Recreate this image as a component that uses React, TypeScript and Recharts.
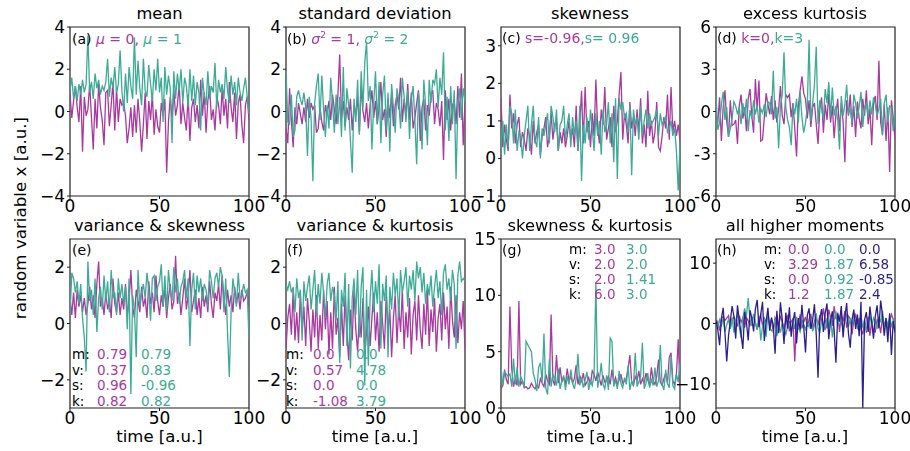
import React from "react";
import { LineChart, Line, XAxis, YAxis, ReferenceArea } from "recharts";

const MAGENTA = "#A8399E";
const TEAL = "#3CAA95";
const NAVY = "#2C1E8C";

// (a) mean
const meanMu0 = [
  0.8, -0.3, 0.5, 1.2, 0.2, -0.5, 1.2, -1.9, 0.7, -0.2,
  0.1, 1.3, -0.3, -1.8, 0.6, -0.8, 1.3, 0.2, -0.4, -1.6,
  0.9, 1.0, -0.7, 0.3, 1.4, -0.9, 1.1, -0.5, 0.6, 0.3,
  0.4, -0.2, -1.5, -0.8, 0.2, -1.2, 0.3, -1.0, 0.6, -0.5,
  -1.9, -0.6, 0.9, -1.3, 0.5, -0.4, 0.8, -1.1, 0.1, -0.7,
  -1.0, 0.4, -0.2, 0.6, -2.9, -0.5, 0.7, -0.3, 1.0, -0.2,
  0.3, 1.3, -0.6, 0.4, -0.3, -0.9, 0.8, -1.4, 0.2, 0.6,
  -0.5, 0.3, -0.8, 1.5, -0.2, 0.9, -1.0, 0.5, 1.2, -0.4,
  0.1, -0.9, 0.7, 0.3, -0.6, 1.1, -0.2, 0.6, -0.8, 1.4,
  0.2, -0.5, 0.9, -1.3, 0.4, 0.8, -0.6, -1.5, 0.3, 0.7,
  -0.4,
];
const meanMu1 = [
  1.0, 1.6, 0.6, 1.2, 0.5, 1.3, 0.8, 1.5, 0.9, 1.3,
  3.6, 0.9, 1.4, 0.6, 1.8, 1.1, 1.5, 0.8, 1.2, 1.0,
  1.4, 2.5, 0.7, 1.6, 1.1, 2.1, 0.9, 1.3, 2.9, 1.0,
  0.0, 1.8, 0.4, 2.1, 1.2, 0.6, 3.5, 0.8, 2.4, 1.1,
  0.3, 2.5, 1.0, 0.7, 2.2, 1.3, 0.5, 2.0, 1.0, 2.5,
  0.9, 1.6, -0.5, 2.1, 0.8, 1.7, 1.1, -1.5, 1.9, 0.6,
  1.8, 1.0, 2.0, 0.4, 1.6, 1.2, 0.2, 2.0, 0.5, 1.7,
  0.3, 1.4, 0.9, -0.9, 1.6, 0.8, 0.3, 1.9, 0.6, 1.2,
  0.9, 2.3, 0.2, 1.5, 0.9, 1.3, 0.6, 2.1, 1.0, 0.4,
  1.7, 0.8, 1.4, 0.3, 1.6, 0.9, 0.5, 1.1, 1.6, 0.7,
  -0.1,
];

// (b) standard deviation
const stdVar1 = [
  -0.8, -1.5, 1.1, -0.4, -1.7, 0.2, -0.6, 0.4, -0.1, -0.6,
  0.2, -0.5, 0.6, -0.3, 0.4, 0.1, 0.3, -1.0, -0.8, 0.2,
  -0.5, -0.9, 0.3, -0.2, 0.5, -0.4, 0.8, 0.1, -0.6, 0.8,
  2.7, -0.3, 0.5, -0.7, 0.2, -0.4, 0.6, -0.9, 0.3, -0.2,
  0.7, -1.0, 1.2, 0.0, -0.5, 0.4, -0.8, 0.3, 1.0, -0.3,
  0.5, -0.6, 0.2, 1.4, -0.4, 0.1, -1.2, 0.6, -0.3, 0.9,
  -0.7, 0.3, 0.8, 0.1, 1.6, -0.5, 0.6, -0.2, 1.3, -0.4,
  0.9, -0.8, -0.3, 0.4, 1.0, -1.4, 0.2, 0.6, -0.9, 0.3,
  -0.2, 0.8, 1.0, -0.6, 0.4, 0.1, -0.7, 0.5, -2.3, 1.0,
  -0.4, 0.6, -0.9, 0.3, 0.5, -0.6, 1.2, -0.3, 1.8, -1.6,
  0.4,
];
const stdVar2 = [
  1.9, -0.5, -0.6, 0.8, -1.2, -0.9, 0.7, 1.0, 0.6, 0.3,
  0.9, 0.2, -2.1, 0.7, -0.3, -3.3, 0.4, 1.2, 1.8, -0.4,
  1.7, 0.1, -1.2, 0.3, -0.8, 1.6, 0.4, -1.0, 0.8, -0.6,
  0.7, -1.2, 2.1, -0.9, 1.1, 0.3, -1.4, -2.9, 0.6, -0.5,
  1.5, -1.1, 1.9, 0.2, 2.3, 3.3, 0.5, 1.2, -1.8, 0.4,
  1.9, -0.6, 1.4, -1.5, 0.8, 1.7, -0.9, 0.9, -1.9, 1.3,
  0.2, -1.0, 1.1, 0.5, -0.8, 1.6, 0.7, -0.5, 1.0, -1.3,
  0.6, 1.2, -0.4, -2.5, 0.9, 0.0, -1.8, 1.5, 0.3, -1.6,
  1.5, 0.4, 1.5, 1.3, 2.0, 0.2, 1.6, 0.8, 2.8, -0.9,
  0.7, -1.4, 1.2, -0.6, 1.0, -3.2, 0.3, 1.1, -0.4, 1.1,
  0.5,
];

// (c) skewness
const skewNeg = [
  1.6, 0.3, 0.9, 0.5, 0.2, 1.7, 0.8, 1.2, 0.4, 0.9,
  1.1, 0.3, 0.7, 0.5, 0.2, 0.8, 0.6, 0.1, 1.0, 0.4,
  0.7, 0.9, 0.1, 0.6, 0.8, 1.1, 0.3, 0.6, 1.2, 0.5,
  0.9, 1.0, 0.2, 0.7, 0.4, 0.8, 0.3, 0.6, 1.0, 0.5,
  0.8, 0.3, 1.4, 0.2, 0.9, 1.8, 0.4, 1.9, 0.7, 1.0,
  0.3, 1.2, 0.6, 2.1, 0.8, 0.4, 1.3, 0.9, 1.9, 0.5,
  0.8, 1.1, 0.3, 1.4, 0.7, 1.0, 1.7, 2.3, 0.5, 1.2,
  0.9, 0.4, 1.5, 0.8, 1.1, 0.6, 1.3, 0.7, 1.6, 0.4,
  0.9, 0.3, 1.8, 0.6, 1.0, 0.4, 0.7, 1.5, 0.3, 0.2,
  0.6, 1.1, 0.8, 1.7, 0.5, 1.9, 0.7, 1.0, 0.6, 0.9,
  0.5,
];
const skewPos = [
  0.2, 1.0, 0.1, 0.9, 0.3, 1.4, 1.2, 0.4, 1.3, 0.2,
  0.7, 0.6, 0.0, 0.6, 1.0, 1.4, 0.2, 0.9, 1.4, 0.5,
  0.3, 1.1, 0.0, 0.8, 0.6, 0.9, 1.2, 0.4, 1.4, 1.1,
  0.7, 1.3, 0.2, 0.9, 1.0, 1.4, 0.5, 0.9, 1.2, 0.3,
  1.1, 0.6, 1.0, 0.2, 1.4, -0.6, 0.9, 0.4, 1.1, 0.5,
  1.3, 0.8, 0.2, 1.2, 0.6, 1.0, 0.1, 1.3, 0.7, 0.9,
  1.5, 0.4, 1.2, -0.1, 1.6, -0.55, 1.6, 1.3, 1.5, 1.1,
  1.2, 0.7, 1.4, -0.45, 1.3, 0.9, 1.1, 0.5, 1.4, 0.6,
  1.0, 1.3, 0.8, 1.2, 0.9, 1.0, 1.1, 1.3, 0.6, 1.2,
  0.9, 1.0, 1.1, 0.7, 0.8, 1.0, 0.6, 0.8, 0.2, -0.85,
  0.4,
];

// (d) excess kurtosis
const kurt0 = [
  -0.2, -0.8, 1.0, -2.1, 0.3, 1.5, -0.7, -1.8, 0.8, -1.0,
  -0.9, -0.6, -2.3, 0.4, 1.2, -0.5, 0.3, -1.4, 0.9, 1.6,
  -0.3, -1.5, 2.3, 0.1, 2.2, -2.1, -2.0, -0.4, 1.3, 0.5,
  -0.2, 1.1, -0.6, 0.8, -0.8, 0.2, 1.8, -0.3, -0.9, 1.2,
  1.0, 1.2, -0.4, 0.6, -1.2, -3.2, 0.4, 1.5, 2.5, 1.3,
  0.9, -0.5, 0.8, -1.1, 0.3, 0.6, -0.9, -2.3, 0.2, 1.0,
  -1.5, 0.5, -0.6, 1.3, -0.8, 0.4, -1.9, -0.2, 0.9, -1.4,
  0.6, -0.7, -3.6, 0.8, -0.3, 1.2, -1.1, 0.4, -1.8, 0.7,
  -0.5, -1.2, 0.9, -0.3, 1.5, -0.9, 0.2, -2.4, 0.6, 1.1,
  -0.6, 3.6, -0.8, -1.6, 0.5, -2.1, 0.3, -4.3, 0.8, -0.4,
  -2.0,
];
const kurt3 = [
  1.1, -1.3, -0.8, 0.5, 1.4, -0.6, 0.3, -1.8, -1.2, -0.5,
  0.7, 0.4, -0.2, 0.3, -0.9, 0.6, -0.3, 0.9, -1.4, 0.1,
  -0.5, 0.8, -0.2, 0.4, -0.8, 0.2, -0.1, 0.5, -0.4, 0.7,
  0.6, -0.2, 2.9, -0.5, 0.3, -2.6, 0.4, 1.2, 4.2, 0.3,
  -0.6, -1.1, -2.4, 0.5, -0.2, 0.9, -0.8, 1.4, -0.4, -1.5,
  -0.8, 0.3, 5.1, -0.7, 0.6, 1.9, 4.6, -0.9, 0.8, 0.2,
  -0.5, 1.6, 0.6, 2.1, -0.4, 1.7, -0.3, 0.4, -0.6, -2.7,
  1.1, -0.3, 0.5, 1.9, -0.2, 0.2, -0.8, 1.2, 0.6, -0.5,
  0.4, 1.4, -1.1, 0.3, 0.6, -0.4, 0.8, -0.2, 1.0, 0.5,
  -0.3, 0.2, 0.9, -1.7, 0.6, 1.2, -0.8, 0.4, 0.3, -1.4,
  0.2,
];

// (e) variance & skewness
const varSkewA = [
  0.9, 0.3, 1.1, 0.2, 1.2, 0.6, 1.0, 0.4, 0.9, 0.3,
  0.7, 1.3, 0.5, 1.0, 0.2, 1.4, 2.2, 0.6, 0.9, 0.3,
  1.1, 0.5, 0.8, 0.2, 1.6, 0.7, 0.4, 1.1, 0.3, 0.9,
  0.5, 1.4, 0.3, 0.8, 1.9, 0.6, 0.2, 1.2, 0.8, 0.4,
  1.3, 0.6, 0.9, 0.2, 1.5, 0.7, 1.1, 0.4, 1.7, 0.8,
  0.3, 1.0, 0.6, 1.3, 0.2, 0.9, 1.4, 0.5, 0.8, 2.4,
  0.7, 1.1, 0.3, 0.9, 1.6, 0.5, 1.0, 1.9, 0.4, 0.8,
  1.2, 0.3, 0.9, 0.2, 1.3, 0.6, 1.0, 0.4, 1.5, 0.7,
  0.2, 1.1, 0.8, 1.4, 0.5, 1.7, 0.9, 0.3, 1.2, 0.6,
  1.0, 0.4, 1.3, 0.7, 1.1, 0.5, 1.2, 0.8, 0.9, 1.1,
  0.6,
];
const varSkewB = [
  0.3, 1.8, 1.6, 1.1, 1.5, 0.7, 1.4, 0.2, -0.5, -1.7,
  2.2, 0.8, 1.2, 0.3, 1.6, -0.3, 0.9, 1.3, 0.5, 1.7,
  0.8, 1.5, 0.4, 1.9, 0.9, 1.1, 0.3, 1.6, 0.9, 1.4,
  0.7, 1.3, -0.2, 1.6, -2.5, 1.0, 0.5, -1.2, 1.9, 0.6,
  1.1, 1.4, 0.9, 1.8, 1.2, 0.1, 1.6, 1.7, 0.8, 1.3,
  1.5, 2.1, 0.6, 1.7, 0.4, 1.9, 1.2, 0.8, 2.0, 1.1,
  1.6, 0.7, 1.3, 1.5, 1.9, 0.9, 1.6, -0.8, 1.2, 1.8,
  0.5, 1.7, 1.1, 1.6, 0.8, 1.4, 1.2, 0.6, 1.9, 1.5,
  0.9, 1.6, 1.8, 1.3, 2.0, 1.7, 0.4, 1.6, -0.3, -1.9,
  0.4, 1.6, 1.1, 0.6, 1.8, 0.9, 1.0, 1.4, 1.1, 1.2,
  -0.6,
];

// (f) variance & kurtosis
const varKurtA = [
  -0.9, 0.2, 0.7, -0.4, 1.2, -0.6, 0.4, -0.7, 1.1, -0.3,
  0.6, -0.8, 0.9, 0.1, -1.0, 0.5, -0.5, 1.0, -0.9, 0.3,
  -0.6, 1.2, -0.2, 0.8, -1.1, 0.4, -0.9, 1.3, -0.4, 0.2,
  -1.2, 0.7, -0.8, 1.0, -0.3, -1.3, 0.5, -0.6, 1.2, -0.2,
  -1.0, 0.3, -0.5, 0.9, -1.1, -0.3, 0.6, -0.8, 0.2, 1.1,
  -0.6, 0.4, -1.0, 0.8, 0.0, -0.9, 1.1, -0.3, 0.5, -1.2,
  0.2, 1.0, -0.7, 0.6, -0.3, 1.2, -0.9, 0.4, -0.5, 0.9,
  -1.1, 0.3, 0.8, -0.6, 1.0, -0.2, -0.9, 0.7, -0.4, 1.2,
  -0.8, 0.5, -0.3, 0.9, -1.0, 0.2, 0.7, -0.6, 1.1, -0.2,
  0.6, -0.9, 1.3, 0.1, -0.5, 1.0, -0.7, 0.4, -0.2, 0.8,
  -0.9,
];
const varKurtB = [
  1.4, 1.2, 1.5, 1.1, 1.3, 0.4, 1.6, 0.9, 1.2, -0.6,
  1.5, 0.8, 1.3, 1.7, 0.5, 1.2, 1.9, 0.3, 1.4, 0.7,
  1.8, 1.1, 0.2, 1.4, 1.8, 0.8, 1.3, 1.0, 0.1, 1.5,
  -1.4, 1.2, 0.6, 1.8, -0.8, 1.4, -1.6, 0.9, 1.6, 0.3,
  1.9, -0.5, 1.3, 2.0, -2.2, 1.2, -1.5, 0.9, 1.9, 0.4,
  1.5, 0.7, 2.1, -0.9, 1.4, 0.8, 1.7, -1.2, 1.3, 0.5,
  1.8, 1.0, 1.6, 0.2, 1.9, 1.1, 1.5, 2.0, 0.6, 1.7,
  1.2, 1.9, 0.8, 2.2, 1.6, 2.0, 1.1, 1.8, 0.7, 1.4,
  1.0, 1.7, 0.6, 1.3, 1.9, 0.9, 1.5, 0.3, 1.8, 2.1,
  1.2, 1.6, 0.8, 1.9, 1.4, -0.9, 1.7, 2.2, 1.5, 1.6,
  1.5,
];

// (g) skewness & kurtosis
const skewKurtA = [
  1.7, 2.0, 3.4, 2.5, 2.1, 9.0, 3.5, 1.9, 2.6, 2.0,
  9.5, 2.1, 2.4, 1.8, 1.9, 1.7, 1.8, 2.2, 1.9, 1.7,
  2.0, 1.8, 2.6, 2.2, 1.9, 3.0, 2.4, 2.1, 8.3, 2.5,
  2.0, 4.7, 2.2, 3.6, 2.3, 2.7, 2.1, 3.5, 2.4, 2.8,
  2.2, 2.6, 3.8, 2.1, 2.9, 2.4, 3.1, 2.0, 2.3, 2.7,
  2.1, 3.3, 3.0, 2.4, 3.2, 2.6, 2.0, 2.9, 2.3, 2.5,
  2.8, 2.1, 3.4, 2.2, 2.7, 2.0, 2.5, 3.0, 2.2, 2.4,
  2.6, 3.5, 4.7, 2.3, 2.0, 2.8, 2.4, 3.3, 2.1, 2.6,
  2.2, 3.1, 2.5, 2.0, 3.6, 2.4, 2.1, 2.8, 4.3, 2.3,
  2.0, 2.6, 3.1, 2.2, 4.5, 4.9, 2.4, 2.1, 3.0, 6.1,
  1.8,
];
const skewKurtB = [
  3.7, 2.0, 3.2, 3.0, 2.8, 3.0, 1.9, 4.4, 2.1, 3.6,
  1.9, 2.8, 2.4, 1.8, 5.9, 5.6, 5.3, 5.0, 3.1, 2.5,
  1.5, 3.6, 4.0, 2.3, 6.6, 1.8, 1.2, 4.3, 1.9, 3.0,
  2.6, 2.0, 3.5, 1.7, 2.4, 2.9, 1.6, 2.8, 2.1, 3.4,
  2.2, 1.7, 2.6, 4.8, 2.0, 2.7, 1.8, 2.5, 3.2, 1.6,
  2.4, 2.0, 3.0, 11.0, 1.8, 2.6, 4.0, 2.1, 1.7, 2.9,
  1.6, 6.2, 5.9, 1.9, 2.5, 1.7, 3.3, 2.2, 1.8, 2.7,
  2.1, 3.8, 1.6, 2.4, 2.0, 4.9, 1.9, 2.3, 2.8, 5.8,
  1.7, 2.2, 3.1, 1.8, 2.5, 2.0, 3.6, 1.9, 2.4, 5.6,
  2.1, 1.6, 3.4, 2.2, 1.8, 4.6, 2.0, 1.7, 3.0, 2.3,
  4.0,
];

// (h) all higher moments
const allA = [
  -0.5, 0.3, -1.2, 0.8, 1.2, 0.5, 0.9, 1.3, -0.8, 0.6,
  1.1, 0.4, -0.5, 1.3, 0.2, 0.9, -0.7, 1.0, 0.4, -0.3,
  0.8, 1.2, 0.1, -1.0, 0.6, 1.4, -0.4, 0.9, 0.3, 1.1,
  -0.2, 0.7, -1.5, 1.0, 0.4, -0.6, 1.3, 0.2, -0.9, 0.5,
  1.2, -1.3, 0.3, 0.8, -6.3, 0.6, -0.4, 1.5, -0.8, 0.2,
  1.1, -0.5, 0.7, 1.6, -1.1, 0.4, 0.9, -0.3, 1.4, 0.1,
  2.5, 0.6, -0.8, 2.3, 1.0, -0.4, 2.9, 0.7, 1.8, -1.4,
  1.5, 0.3, 2.1, -0.7, 1.2, 0.8, -1.8, 0.6, 1.4, -0.2,
  0.9, -1.0, -1.8, 0.5, -1.5, 1.1, -2.0, 0.3, -1.2, -1.4,
  0.6, 0.2, -1.6, 1.0, -0.5, 0.8, -1.3, 0.4, 1.5, 0.7,
  -0.8,
];
const allB = [
  0.4, -0.8, 0.6, -0.3, 0.9, -1.4, -0.2, 0.7, -0.9, 1.0,
  -1.5, 0.3, 1.8, -0.6, -2.4, 0.9, 2.5, 1.2, 4.2, 0.5,
  -0.4, 1.6, 0.2, -1.0, 1.3, -2.8, -0.5, 0.8, -2.2, 1.9,
  -0.6, -1.2, -0.9, 0.7, -2.1, -0.3, -1.5, 0.2, -0.8, -1.8,
  -0.5, 0.4, -1.2, 0.3, -0.9, 1.1, -0.7, -1.4, 0.6, -0.2,
  -1.0, 0.1, -0.6, 0.8, -1.3, -0.4, 1.7, -0.8, -1.6, 0.5,
  -0.3, -1.1, 0.9, -0.7, 1.4, -2.3, 0.6, 2.0, -0.4, 1.3,
  0.2, -1.0, 0.8, 1.5, -0.6, 0.9, -0.3, 1.2, 0.4, -0.8,
  0.1, 1.4, -0.7, 0.6, -1.2, -0.1, 1.3, -0.5, 0.9, 0.3,
  -0.9, 1.1, 0.2, 2.1, -0.6, 0.7, -0.2, 1.0, -0.4, 0.5,
  -0.3,
];
const allC = [
  0.5, -1.0, -3.6, 0.8, 2.6, -1.5, -6.3, -2.0, 0.4, 2.9,
  1.2, -2.5, 3.0, 0.6, -1.8, -4.2, 1.9, 0.2, -2.8, 2.2,
  0.9, -1.3, 2.4, 3.9, -0.6, 1.5, 3.6, -2.9, 0.3, 2.6,
  -1.2, 1.0, -0.4, -5.0, 2.1, -1.6, 3.5, 0.7, -3.4, 1.8,
  -0.8, 2.7, -2.2, 0.4, 1.9, -3.3, 0.9, -1.0, 3.1, -0.5,
  -4.8, 1.3, 2.5, -0.9, 0.6, 3.2, -1.8, -9.0, 0.8, 2.4,
  -1.4, 1.7, 3.3, -2.6, 0.5, 2.0, -1.1, -6.5, 1.6, 0.3,
  2.9, -2.3, 1.1, 3.4, -1.7, -4.0, 0.7, 2.3, -0.9, 1.5,
  -2.1, 3.6, -14.0, 0.6, 1.9, -1.4, 2.8, 0.2, -2.5, 1.2,
  3.0, -0.8, 3.8, 1.4, -2.0, 0.9, -3.1, 1.7, -5.2, 0.4,
  -1.5,
];

// axes
const X_TICKS = [0, 50, 100];
const TICKS_AB = [-4, -2, 0, 2, 4];
const TICKS_C = [-1, 0, 1, 2, 3];
const TICKS_D = [-6, -3, 0, 3, 6];
const TICKS_EF = [-2, 0, 2];
const TICKS_G = [0, 5, 10, 15];
const TICKS_H = [-10, 0, 10];

// stat tables
const STAT_LABELS = ["m:", "v:", "s:", "k:"];
const STATS_E = [["0.79", "0.79"], ["0.37", "0.83"], ["0.96", "-0.96"], ["0.82", "0.82"]];
const STATS_F = [["0.0", "0.0"], ["0.57", "4.78"], ["0.0", "0.0"], ["-1.08", "3.79"]];
const STATS_G = [["3.0", "3.0"], ["2.0", "2.0"], ["2.0", "1.41"], ["6.0", "3.0"]];
const STATS_H = [["0.0", "0.0", "0.0"], ["3.29", "1.87", "6.58"], ["0.0", "0.92", "-0.85"], ["1.2", "1.87", "2.4"]];

const PLOT_W = 179;
const PLOT_H = 169;
const COL_X = [70, 285.5, 500.5, 715.5];
const ROW_Y = [27, 239];
const YW = 45;
const XH = 28;
const TM = 12;
const RM = 18;
const TICK_FONT = 17;
const FONT = "'DejaVu Sans', sans-serif";

const minusFmt = (v: number) => (v < 0 ? "\u2212" + Math.abs(v) : String(v));
const hyphenFmt = (v: number) => String(v);

type PanelProps = {
  col: number;
  row: number;
  domain: [number, number];
  ticks: number[];
  fmt?: (v: number) => string;
  series: number[][];
  colors: string[];
  title: string;
};

function Panel({ col, row, domain, ticks, fmt = minusFmt, series, colors, title }: PanelProps) {
  const n = Math.max(...series.map((s) => s.length));
  const data = Array.from({ length: n }, (_, i) => {
    const d: Record<string, number> = { t: i };
    series.forEach((s, k) => {
      if (i < s.length) d["s" + k] = s[i];
    });
    return d;
  });
  const left = COL_X[col];
  const top = ROW_Y[row];
  return (
    <>
      <div
        style={{
          position: "absolute",
          left: left - 20,
          width: PLOT_W + 40,
          top: top - 23,
          textAlign: "center",
          fontSize: 16.3,
          lineHeight: "20px",
          whiteSpace: "nowrap",
        }}
      >
        {title}
      </div>
      <div style={{ position: "absolute", left: left - YW, top: top - TM }}>
        <LineChart
          width={YW + PLOT_W + RM}
          height={TM + PLOT_H + XH}
          data={data}
          margin={{ top: TM, right: RM, left: 0, bottom: 0 }}
        >
          <XAxis
            dataKey="t"
            type="number"
            domain={[0, 100]}
            ticks={X_TICKS}
            height={XH}
            allowDataOverflow
            axisLine={false}
            tickSize={3}
            tickMargin={1}
            tickLine={{ stroke: "#222" }}
            tick={{ fontSize: TICK_FONT, fill: "#000" }}
            interval={0}
          />
          <YAxis
            type="number"
            domain={domain}
            ticks={ticks}
            width={YW}
            allowDataOverflow
            axisLine={false}
            tickSize={3}
            tickMargin={2}
            tickLine={{ stroke: "#222" }}
            tick={{ fontSize: TICK_FONT, fill: "#000" }}
            tickFormatter={fmt}
            interval={0}
          />
          {series.map((_, k) => (
            <Line
              key={k}
              dataKey={"s" + k}
              stroke={colors[k]}
              strokeWidth={1.3}
              dot={false}
              isAnimationActive={false}
              type="linear"
            />
          ))}
          <ReferenceArea
            x1={0}
            x2={100}
            y1={domain[0]}
            y2={domain[1]}
            fill="none"
            fillOpacity={0}
            stroke="#222"
            strokeWidth={1.2}
            ifOverflow="visible"
          />
        </LineChart>
      </div>
    </>
  );
}

function Tag({ x, y, children }: { x: number; y: number; children: React.ReactNode }) {
  return (
    <div style={{ position: "absolute", left: x, top: y - 9, fontSize: 14, lineHeight: "18px", whiteSpace: "nowrap" }}>
      {children}
    </div>
  );
}

function StatTable({
  x,
  y,
  step,
  colX,
  rows,
  colors,
}: {
  x: number;
  y: number;
  step: number;
  colX: number[];
  rows: string[][];
  colors: string[];
}) {
  return (
    <>
      {STAT_LABELS.map((lab, r) => (
        <React.Fragment key={lab}>
          <div style={{ position: "absolute", left: x, top: y + r * step - 9, fontSize: 13.5, lineHeight: "18px" }}>{lab}</div>
          {rows[r].map((v, c) => (
            <div
              key={c}
              style={{ position: "absolute", left: colX[c], top: y + r * step - 9, fontSize: 13.5, lineHeight: "18px", color: colors[c] }}
            >
              {v}
            </div>
          ))}
        </React.Fragment>
      ))}
    </>
  );
}

export default function App() {
  const mu = <i>μ</i>;
  const sig = (
    <>
      <i>σ</i>
      <sup style={{ fontSize: 9, verticalAlign: "6px", lineHeight: 0 }}>2</sup>
    </>
  );
  return (
    <div
      style={{
        position: "fixed",
        left: 0,
        top: 0,
        width: 910,
        height: 451,
        background: "#fff",
        fontFamily: FONT,
        color: "#000",
      }}
    >
      <Panel col={0} row={0} domain={[-4, 4]} ticks={TICKS_AB} series={[meanMu0, meanMu1]} colors={[MAGENTA, TEAL]} title="mean" />
      <Panel col={1} row={0} domain={[-4, 4]} ticks={TICKS_AB} series={[stdVar1, stdVar2]} colors={[MAGENTA, TEAL]} title="standard deviation" />
      <Panel col={2} row={0} domain={[-1, 3.5]} ticks={TICKS_C} series={[skewNeg, skewPos]} colors={[MAGENTA, TEAL]} title="skewness" />
      <Panel col={3} row={0} domain={[-6, 6]} ticks={TICKS_D} fmt={hyphenFmt} series={[kurt0, kurt3]} colors={[MAGENTA, TEAL]} title="excess kurtosis" />
      <Panel col={0} row={1} domain={[-3, 3]} ticks={TICKS_EF} series={[varSkewA, varSkewB]} colors={[MAGENTA, TEAL]} title="variance & skewness" />
      <Panel col={1} row={1} domain={[-3, 3]} ticks={TICKS_EF} series={[varKurtA, varKurtB]} colors={[MAGENTA, TEAL]} title="variance & kurtosis" />
      <Panel col={2} row={1} domain={[0, 15]} ticks={TICKS_G} series={[skewKurtA, skewKurtB]} colors={[MAGENTA, TEAL]} title="skewness & kurtosis" />
      <Panel col={3} row={1} domain={[-14, 14]} ticks={TICKS_H} series={[allA, allB, allC]} colors={[MAGENTA, TEAL, NAVY]} title="all higher moments" />

      <Tag x={72} y={39}>
        (a) <span style={{ color: MAGENTA }}>{mu} = 0,</span> <span style={{ color: TEAL }}>{mu} = 1</span>
      </Tag>
      <Tag x={287} y={39}>
        (b) <span style={{ color: MAGENTA }}>{sig} = 1,</span> <span style={{ color: TEAL }}>{sig} = 2</span>
      </Tag>
      <Tag x={502} y={38}>
        (c) <span style={{ color: MAGENTA }}>s=-0.96,</span><span style={{ color: TEAL }}>s= 0.96</span>
      </Tag>
      <Tag x={717} y={38}>
        (d) <span style={{ color: MAGENTA }}>k=0,</span><span style={{ color: TEAL }}>k=3</span>
      </Tag>
      <Tag x={72} y={250}>(e)</Tag>
      <Tag x={287} y={250}>(f)</Tag>
      <Tag x={502} y={250}>(g)</Tag>
      <Tag x={717} y={250}>(h)</Tag>

      <StatTable x={72} y={354} step={15.7} colX={[97, 141]} rows={STATS_E} colors={[MAGENTA, TEAL]} />
      <StatTable x={286} y={354} step={15.7} colX={[313, 356]} rows={STATS_F} colors={[MAGENTA, TEAL]} />
      <StatTable x={569} y={249} step={15} colX={[594, 626]} rows={STATS_G} colors={[MAGENTA, TEAL]} />
      <StatTable x={764} y={249} step={15} colX={[788, 824, 859]} rows={STATS_H} colors={[MAGENTA, TEAL, NAVY]} />

      <div
        style={{
          position: "absolute",
          left: 20 - 150,
          top: 218 - 10,
          width: 300,
          height: 20,
          lineHeight: "20px",
          fontSize: 16.7,
          textAlign: "center",
          transform: "rotate(-90deg)",
          whiteSpace: "nowrap",
        }}
      >
        random variable x [a.u.]
      </div>
      {COL_X.map((x) => (
        <div
          key={x}
          style={{
            position: "absolute",
            left: x,
            width: PLOT_W,
            top: 427,
            lineHeight: "20px",
            fontSize: 16.5,
            textAlign: "center",
          }}
        >
          time [a.u.]
        </div>
      ))}
    </div>
  );
}
